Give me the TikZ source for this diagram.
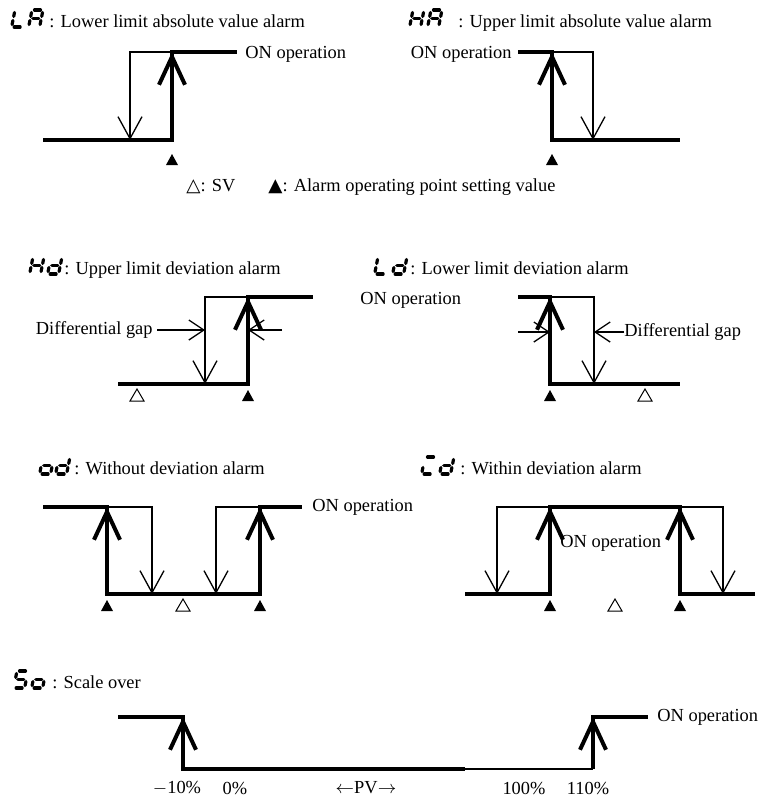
\documentclass[tikz,border=0pt]{standalone}
\usepackage{fontspec}
\setmainfont{Liberation Serif}
\newfontfamily\symfont{DejaVu Sans}
\usepackage{tikz}
\usetikzlibrary{arrows.meta}

\tikzset{
  onpath/.style={line width=2pt},
  hyst/.style={line width=0.65pt},
  uptip/.style={line width=2pt,-{Straight Barb[length=14pt,width=13pt]}},
  downtip/.style={hyst,-{Straight Barb[length=11pt,width=12pt]}},
  gaptip/.style={hyst,-{Straight Barb[length=7.5pt,width=10pt]}},
  segline/.style={line width=1.6pt,line cap=round},
  lbl/.style={inner sep=0pt,font=\fontsize{9.2}{11}\selectfont},
  seg/a/.code={\draw[segline] (2.5,0) -- (8.5,0);},
  seg/b/.code={\draw[segline] (11,2.5) -- (11,6.5);},
  seg/c/.code={\draw[segline] (11,10.5) -- (11,14.5);},
  seg/d/.code={\draw[segline] (2.5,17) -- (8.5,17);},
  seg/e/.code={\draw[segline] (0,10.5) -- (0,14.5);},
  seg/f/.code={\draw[segline] (0,2.5) -- (0,6.5);},
  seg/g/.code={\draw[segline] (2.5,8.5) -- (8.5,8.5);},
}

% seven segment character: position of top left, list of segments
\newcommand{\segchar}[2]{%
  \begin{scope}[shift={(#1)},xslant=0.2]
    \foreach \s in {#2}{\edef\segkey{seg/\s}\expandafter\tikzset\expandafter{\segkey}}
  \end{scope}}
% alarm point and SV marks
\newcommand{\apmark}[1]{\fill (#1) +(-6,6) -- +(6,6) -- +(0,-5) -- cycle;}
\newcommand{\svmark}[1]{\draw[line width=0.5pt] (#1) +(-7,6) -- +(7,6) -- +(0,-6) -- cycle;}

\begin{document}
\begin{tikzpicture}[x=0.5pt,y=-0.5pt]
  \useasboundingbox (0,0) rectangle (779,798);

  % lower limit absolute value
  \segchar{15,10}{d,e,f}
  \segchar{32,10}{a,b,c,e,f,g}
  \node[lbl,anchor=base west] (tLA) at (49,27) {: Lower limit absolute value alarm};
  \draw[onpath] (43,140) -- (172,140) -- (172,52) -- (237,52);
  \draw[uptip] (172,100) -- (172,52);
  \draw[downtip] (172,52) -- (130,52) -- (130,140);
  \apmark{172,159}
  \node[lbl,anchor=west] (onLA) at (245,54) {ON operation};

  % upper limit absolute value
  \segchar{413,10}{b,c,e,f,g}
  \segchar{431,10}{a,b,c,e,f,g}
  \node[lbl,anchor=base west] (tHA) at (458,27) {: Upper limit absolute value alarm};
  \draw[onpath] (518,52) -- (552,52) -- (552,140) -- (680,140);
  \draw[uptip] (552,100) -- (552,52);
  \draw[downtip] (552,52) -- (593,52) -- (593,140);
  \apmark{552,159}
  \node[lbl,anchor=east] (onHA) at (512,54) {ON operation};

  % legend
  \node[lbl,anchor=west] (svkey) at (186,187) {{\symfont △}: SV};
  \node[lbl,anchor=west] (apkey) at (268,187) {{\symfont ▲}: Alarm operating point setting value};

  % upper limit deviation
  \segchar{33,257}{b,c,e,f,g}
  \segchar{51,257}{b,c,d,e,g}
  \node[lbl,anchor=base west] (tHd) at (64,274) {: Upper limit deviation alarm};
  \draw[onpath] (118,384) -- (248,384) -- (248,297) -- (313,297);
  \draw[uptip] (248,340) -- (248,297);
  \draw[downtip] (248,297) -- (205,297) -- (205,384);
  \node[lbl,anchor=east] (gapHd) at (153,330) {Differential gap};
  \draw[gaptip] ([xshift=2pt]gapHd.east) -- (205,330);
  \draw[gaptip] (282,330) -- (248,330);
  \svmark{137,395}
  \apmark{248,395}
  \node[lbl,anchor=west] (onDev) at (360,300) {ON operation};

  % lower limit deviation
  \segchar{378,257}{d,e,f}
  \segchar{396,257}{b,c,d,e,g}
  \node[lbl,anchor=base west] (tLd) at (410,274) {: Lower limit deviation alarm};
  \draw[onpath] (518,297) -- (550,297) -- (550,384) -- (680,384);
  \draw[uptip] (550,340) -- (550,297);
  \draw[downtip] (550,297) -- (594,297) -- (594,384);
  \draw[gaptip] (518,332) -- (550,332);
  \node[lbl,anchor=west] (gapLd) at (624,332) {Differential gap};
  \draw[gaptip] (gapLd.west) -- (594,332);
  \apmark{550,395}
  \svmark{645,395}

  % without deviation
  \segchar{43,457}{c,d,e,g}
  \segchar{59,457}{b,c,d,e,g}
  \node[lbl,anchor=base west] (tOd) at (74,474) {: Without deviation alarm};
  \draw[onpath] (43,507) -- (107,507) -- (107,594) -- (260,594) -- (260,507) -- (302,507);
  \draw[uptip] (107,550) -- (107,507);
  \draw[uptip] (260,550) -- (260,507);
  \draw[downtip] (107,507) -- (152,507) -- (152,594);
  \draw[downtip] (260,507) -- (216,507) -- (216,594);
  \apmark{107,605}
  \svmark{183,605}
  \apmark{260,605}
  \node[lbl,anchor=west] (onOd) at (312,507) {ON operation};

  % within deviation
  \segchar{425,457}{a,d,e}
  \segchar{443,457}{b,c,d,e,g}
  \node[lbl,anchor=base west] (tId) at (460,474) {: Within deviation alarm};
  \draw[onpath] (465,594) -- (550,594) -- (550,507) -- (680,507) -- (680,594) -- (755,594);
  \draw[uptip] (550,550) -- (550,507);
  \draw[uptip] (680,550) -- (680,507);
  \draw[downtip] (550,507) -- (497,507) -- (497,594);
  \draw[downtip] (680,507) -- (723,507) -- (723,594);
  \apmark{550,605}
  \svmark{615,605}
  \apmark{680,605}
  \node[lbl,anchor=west] (onId) at (560,543) {ON operation};

  % scale over
  \segchar{17,671}{a,f,g,c,d}
  \segchar{35,671}{c,d,e,g}
  \node[lbl,anchor=base west] (tSo) at (52,688) {: Scale over};
  \draw[onpath] (118,717) -- (183,717) -- (183,769) -- (465,769);
  \draw[line width=1.3pt] (465,769) -- (593,769);
  \draw[onpath] (593,769) -- (593,717) -- (648,717);
  \draw[uptip] (183,760) -- (183,717);
  \draw[uptip] (593,760) -- (593,717);
  \node[lbl,anchor=west] (onSo) at (657,717) {ON operation};
  \node[lbl] (pm10) at (177,788) {$-$10\%};
  \node[lbl] (p0) at (235,788) {0\%};
  \node[lbl] (pv) at (366,788) {$\leftarrow$PV$\rightarrow$};
  \node[lbl] (p100) at (524,788) {100\%};
  \node[lbl] (p110) at (588,788) {110\%};
\end{tikzpicture}
\end{document}
